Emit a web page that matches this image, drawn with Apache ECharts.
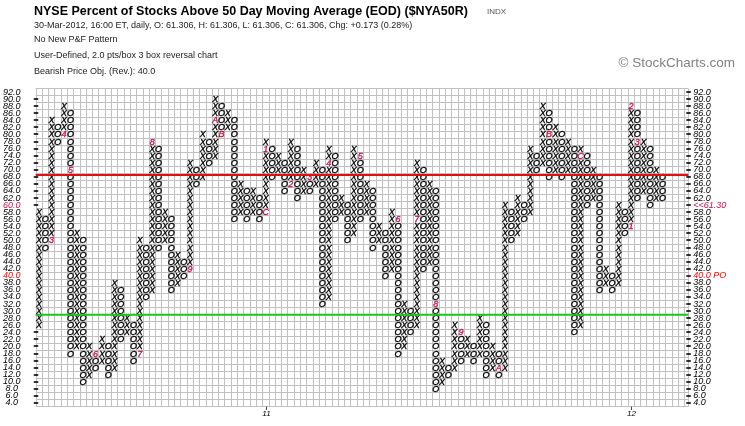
<!DOCTYPE html>
<html><head><meta charset="utf-8">
<script src="https://cdn.jsdelivr.net/npm/echarts@6/dist/echarts.min.js"></script>
<style>html,body{margin:0;padding:0;background:#fff}#c{width:745px;height:426px}</style>
</head><body><div id="c"></div>
<script>
// Point & Figure columns, 2.0 pts/box, 3 box reversal. Column 1 is X, then alternating O / X.
const columnLow  = [26,48,50,78,80,18,20,10,12,14, 16,12,14,22,24,16,18,34,36,48, 50,36,38,40,42,66,68,72,74,80,
                    82,56,58,56,58,56,58,68,70,64, 66,62,64,64,66,32,34,56,58,50, 52,56,58,48,50,40,42,18,20,24,
                    26,42,44,8,10,12,14,16,18,16, 18,12,14,12,14,50,52,56,58,70, 72,68,70,68,70,24,26,60,62,36,
                    38,36,38,52,54,62,64,60,62,62];
const columnHigh = [58,56,84,82,88,86,52,50,20,18, 22,20,38,36,28,26,50,48,78,76, 58,56,46,44,72,70,80,78,90,88,
                    86,84,66,64,64,62,78,76,74,72, 78,76,70,68,72,70,76,74,62,60, 76,74,66,64,54,52,58,56,32,30,
                    72,70,66,64,16,14,26,24,22,20, 28,26,20,18,60,58,62,60,76,74, 88,86,82,80,78,76,76,74,70,68,
                    42,40,60,58,88,86,78,76,70,68];
// month markers (column number, box value, month code)
const monthCol  = [3,5,6,10,17,19,25,29,30,37, 37,41,44,47,52,58,61,64,68,74, 82,87,95,95,96];
const monthBox  = [50,80,70,18,18,78,42,84,80,58, 76,66,68,72,74,56,56,32,24,14, 80,74,54,88,78];
const monthChar = ['3','4','5','6','7','8','9','A','B','C', '1','2','3','4','5','6','7','8','9','A', 'B','C','1','2','3'];
// year labels on the x axis
const yearCol  = [37, 95];
const yearText = ['11', '12'];
// horizontal reference levels
const refLevels = [68.5, 29];
const refColors = ['#e01010', '#18c818'];
const lastClose = 61.30;
const priceObjective = 40.0;
const boxSize = 2;
const yMin = 4, yMax = 92;

const glyphData = [], glyphText = [], glyphColor = [];
for (let i = 0; i < columnLow.length; i++) {
  const t = (i % 2 === 0) ? 'X' : 'O';
  for (let v = columnLow[i]; v <= columnHigh[i]; v += boxSize) {
    let ch = t, col = '#000';
    for (let m = 0; m < monthCol.length; m++) {
      if (monthCol[m] === i + 1 && monthBox[m] === v) { ch = monthChar[m]; col = '#cc1045'; }
    }
    glyphData.push([i + 1, v]); glyphText.push(ch); glyphColor.push(col);
  }
}
const xMin = 0.5, xMax = 104.1;
const lastRow = Math.floor(lastClose / boxSize) * boxSize;
const tickData = [];
for (let v = yMin; v <= yMax; v += boxSize) {
  if (v < yMax && (v < columnLow[0] || v > columnHigh[0])) tickData.push([xMin, v, -1]);
  tickData.push([xMax, v, 1]);
}
const FONT = '"Liberation Sans", Arial, sans-serif';
const labStyle = {fontStyle:'italic', fontSize:9, fontFamily:FONT};
function leftFmt(v){
  if (v % 2 !== 0) return '';
  if (v === lastRow) return '{c|' + v.toFixed(1) + '}';
  if (v === priceObjective) return '{r|' + v.toFixed(1) + '}';
  return v.toFixed(1);
}
function rightFmt(v){
  if (v % 2 !== 0) return '';
  if (v === lastRow) return '{c|<<' + lastClose.toFixed(2) + '}';
  if (v === priceObjective) return '{r|' + v.toFixed(1) + ' PO}';
  return v.toFixed(1);
}
const rich = {c:Object.assign({color:'#cc1045'}, labStyle), r:Object.assign({color:'#ff0000'}, labStyle)};

const chart = echarts.init(document.getElementById('c'), null, {renderer:'canvas'});
chart.setOption({
  animation:false,
  backgroundColor:'#fff',
  grid:{left:34, right:56.7, top:88.5, bottom:19.5},
  xAxis:{type:'value', min:xMin, max:xMax, interval:1,
    axisLine:{show:false}, axisTick:{show:false}, axisLabel:{show:false},
    splitLine:{show:true, lineStyle:{color:'#c0c0c0', width:1}}},
  yAxis:[
    {type:'value', min:3, max:93, interval:2, axisLine:{show:false}, axisTick:{show:false}, axisLabel:{show:false},
      splitLine:{show:true, lineStyle:{color:'#c0c0c0', width:1}}},
    {type:'value', position:'left', min:3, max:93, interval:1, axisLine:{show:false}, axisTick:{show:false}, splitLine:{show:false},
      axisLabel:Object.assign({margin:24, align:'center', color:'#000', formatter:leftFmt, rich:rich}, labStyle)},
    {type:'value', position:'right', min:3, max:93, interval:1, axisLine:{show:false}, axisTick:{show:false}, splitLine:{show:false},
      axisLabel:Object.assign({margin:5, align:'left', color:'#000', formatter:rightFmt, rich:rich}, labStyle)}
  ],
  graphic:[
    {type:'text', left:34, top:5, style:{text:'NYSE Percent of Stocks Above 50 Day Moving Average (EOD) ($NYA50R)', font:'bold 12.5px '+FONT, fill:'#000'}},
    {type:'text', left:487, top:8, style:{text:'INDX', font:'8px '+FONT, fill:'#555'}},
    {type:'text', left:34, top:21, style:{text:'30-Mar-2012, 16:00 ET, daily, O: 61.306, H: 61.306, L: 61.306, C: 61.306, Chg: +0.173 (0.28%)', font:'9px '+FONT, fill:'#222'}},
    {type:'text', left:34, top:35, style:{text:'No New P&F Pattern', font:'9px '+FONT, fill:'#222'}},
    {type:'text', left:34, top:51, style:{text:'User-Defined, 2.0 pts/box 3 box reversal chart', font:'9px '+FONT, fill:'#222'}},
    {type:'text', left:34, top:67, style:{text:'Bearish Price Obj. (Rev.): 40.0', font:'9px '+FONT, fill:'#222'}},
    {type:'text', right:10, top:56, style:{text:'\u00A9 StockCharts.com', font:'13.5px '+FONT, fill:'#808080'}}
  ],
  series:[
    {type:'custom', name:'ref', xAxisIndex:0, yAxisIndex:0, z:5, data:refLevels.map(function(v){return [xMin, v];}),
      renderItem:function(params, api){
        const a = api.coord([xMin, api.value(1)]), b = api.coord([xMax, api.value(1)]);
        return {type:'line', shape:{x1:a[0], y1:a[1], x2:b[0], y2:b[1]}, style:{stroke:refColors[params.dataIndex], lineWidth:2}};
      }},
    {type:'custom', name:'ticks', xAxisIndex:0, yAxisIndex:0, z:3, data:tickData,
      renderItem:function(params, api){
        const p = api.coord([api.value(0), api.value(1)]);
        const y = Math.round(p[1]);
        return {type:'line', shape:{x1:p[0]-2, y1:y, x2:p[0]+2.5, y2:y}, style:{stroke:'#000', lineWidth:1.6}};
      }},
    {type:'custom', name:'years', xAxisIndex:0, yAxisIndex:0, z:3, data:yearCol.map(function(c){return [c, 3];}),
      renderItem:function(params, api){
        const p = api.coord([api.value(0), api.value(1)]);
        const x = Math.round(p[0]) + 0.5;
        return {type:'group', children:[
          {type:'line', shape:{x1:x, y1:p[1], x2:x, y2:p[1]+3.5}, style:{stroke:'#444', lineWidth:1}},
          {type:'text', x:x, y:p[1]+7, style:{text:yearText[params.dataIndex], font:'italic 8px '+FONT, fill:'#000', align:'center', verticalAlign:'middle', textAlign:'center', textVerticalAlign:'middle'}}
        ]};
      }},
    {type:'custom', name:'pf', xAxisIndex:0, yAxisIndex:0, z:4, data:glyphData,
      renderItem:function(params, api){
        const p = api.coord([api.value(0), api.value(1)]);
        const i = params.dataIndex;
        return {type:'text', x:p[0], y:p[1]+0.5,
          style:{text:glyphText[i], fill:glyphColor[i], stroke:glyphColor[i], lineWidth:0.35, font:'italic 9px '+FONT,
          align:'center', verticalAlign:'middle', textAlign:'center', textVerticalAlign:'middle'}};
      }}
  ]
});
</script></body></html>
